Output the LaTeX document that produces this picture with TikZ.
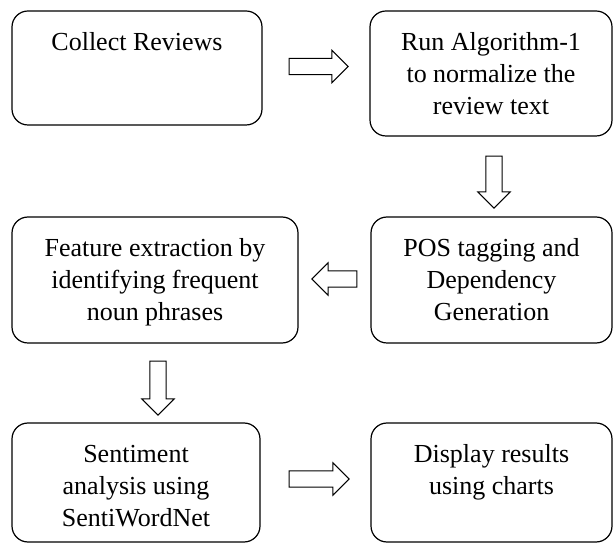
\documentclass[tikz,border=0pt]{standalone}
\usepackage{fontspec}
\setmainfont{Liberation Serif}
\usetikzlibrary{shapes.arrows}
\newcommand{\fstrut}{\rule{0pt}{18pt}}
\begin{document}
\begin{tikzpicture}[x=1pt,y=1pt,
  stepbox/.style={draw, line width=1.2pt, rounded corners=16pt, inner sep=0pt},
  boxtext/.style={anchor=north, inner sep=0pt, align=center,
    font=\fontsize{26}{32}\selectfont, yshift=-22pt},
  blockarrow/.style={single arrow, draw, line width=1pt, inner sep=7.7pt,
    single arrow head extend=8pt}]
\useasboundingbox (0,0) rectangle (614,544);
% boxes
\node[stepbox, minimum width=250pt, minimum height=114pt] (b1) at (137,476) {};
\node[stepbox, minimum width=242pt, minimum height=125pt] (b2) at (491,470.5) {};
\node[stepbox, minimum width=286pt, minimum height=126pt] (b3) at (155,264) {};
\node[stepbox, minimum width=241pt, minimum height=126pt] (b4) at (491.5,264) {};
\node[stepbox, minimum width=248pt, minimum height=119pt] (b5) at (136,61.5) {};
\node[stepbox, minimum width=241pt, minimum height=119pt] (b6) at (491.5,61.5) {};
% texts
\node[boxtext] (t1) at (b1.north) {\fstrut Collect Reviews};
\node[boxtext] (t2) at (b2.north) {\fstrut Run Algorithm-1\\to normalize the\\review text};
\node[boxtext] (t3) at (b3.north) {\fstrut Feature extraction by\\identifying frequent\\noun phrases};
\node[boxtext] (t4) at (b4.north) {\fstrut POS tagging and\\Dependency\\Generation};
\node[boxtext] (t5) at (b5.north) {\fstrut Sentiment\\analysis using\\SentiWordNet};
\node[boxtext] (t6) at (b6.north) {\fstrut Display results\\using charts};
% block arrows
\node[blockarrow, minimum height=59pt] (a1) at (314.5,477.5) {};
\node[blockarrow, minimum height=52pt, shape border rotate=270] (a2) at (494,366) {};
\node[blockarrow, minimum height=45pt, shape border rotate=180] (a3) at (338.5,265) {};
\node[blockarrow, minimum height=54pt, shape border rotate=270] (a4) at (158,160) {};
\node[blockarrow, minimum height=60pt] (a5) at (315,65) {};
\end{tikzpicture}
\end{document}
